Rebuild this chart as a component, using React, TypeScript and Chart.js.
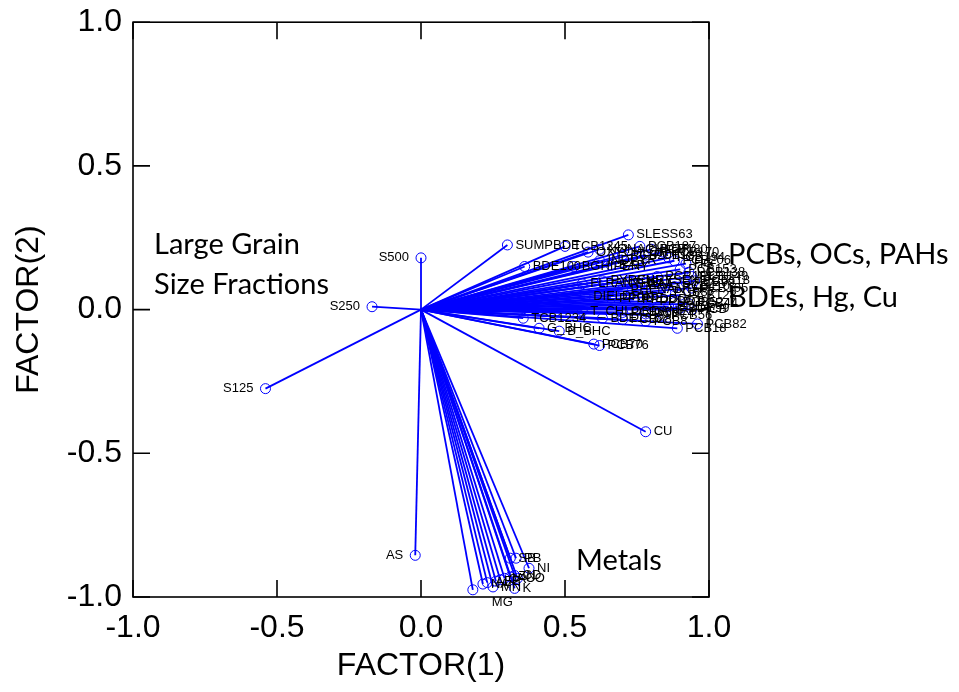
import React, { useEffect, useRef } from "react";
import { Chart, registerables } from "chart.js";

Chart.register(...registerables);

// Variable names (loadings on FACTOR(1), FACTOR(2))
const variables = [
  "S500", "S250", "S125", "AS", "CU",
  "SUMPBDE", "BDE100", "TCB1245", "OXYCHLOR", "NONACHLOR", "SLESS63", "PCB187",
  "PCB180", "PCB170", "PCB183", "PCB194", "PCB206", "HG", "PCB201", "BGHIPERY",
  "INDPYR", "BAP", "PCB153", "PCB138", "PCB149", "PCB118", "PCB99", "PCB101",
  "FLRANTHENE", "PYRENE", "CHRYSENE", "BAA", "PCB110", "PCB105", "PHENANTH", "PCB87",
  "PCB128", "DIELDRIN", "PPDDE", "PPDDD", "PPDDT", "PCB52", "PCB44", "BDE47",
  "BDE99", "HCB", "T_CHLORDANE", "PCB66", "PCB74", "PCB56", "BDE153", "PCB28",
  "PCB18", "PCB8", "PCB82", "TCB1234", "G_BHC", "B_BHC", "PCB70", "PCB76",
  "SB", "PB", "NI", "K", "MG", "NA", "AL", "FE", "CR", "V", "ZN", "CD", "CO", "MN"
];

const factor1 = [
  0.0, -0.17, -0.54, -0.02, 0.78,
  0.30, 0.36, 0.50, 0.58, 0.62, 0.72, 0.76,
  0.80, 0.84, 0.78, 0.86, 0.88, 0.92, 0.70, 0.53,
  0.62, 0.66, 0.90, 0.93, 0.94, 0.95, 0.92, 0.82,
  0.56, 0.63, 0.72, 0.76, 0.88, 0.94, 0.70, 0.85,
  0.90, 0.57, 0.66, 0.74, 0.80, 0.88, 0.93, 0.86,
  0.90, 0.94, 0.56, 0.70, 0.78, 0.84, 0.63, 0.70,
  0.89, 0.78, 0.96, 0.355, 0.41, 0.48, 0.60, 0.62,
  0.31, 0.33, 0.375, 0.325, 0.18, 0.215, 0.23, 0.26, 0.275, 0.29, 0.31, 0.325, 0.335, 0.25
];

const factor2 = [
  0.18, 0.01, -0.275, -0.855, -0.425,
  0.225, 0.15, 0.22, 0.20, 0.21, 0.26, 0.22,
  0.21, 0.20, 0.19, 0.18, 0.17, 0.16, 0.19, 0.15,
  0.17, 0.155, 0.14, 0.13, 0.115, 0.10, 0.095, 0.115,
  0.09, 0.10, 0.10, 0.085, 0.08, 0.075, 0.07, 0.06,
  0.05, 0.045, 0.04, 0.035, 0.03, 0.025, 0.02, 0.01,
  0.005, 0.0, -0.005, -0.01, -0.015, -0.02, -0.03, -0.035,
  -0.065, -0.04, -0.05, -0.03, -0.065, -0.075, -0.12, -0.125,
  -0.865, -0.865, -0.90, -0.97, -0.975, -0.955, -0.95, -0.945, -0.94, -0.935, -0.93, -0.925, -0.935, -0.965
];

// Label side for the few variables not labelled on the right
const leftLabels = ["S500", "S250", "S125", "AS"];
const belowLabels = ["MG"];

// Axis ticks
const tickValues = [-1.0, -0.5, 0.0, 0.5, 1.0];

// Annotation texts with their anchor in data coordinates
const annotationTexts = ["Large Grain", "Size Fractions", "PCBs, OCs, PAHs", "BDEs, Hg, Cu", "Metals"];
const annotationX = [-0.927, -0.927, 1.066, 1.066, 0.538];
const annotationY = [0.226, 0.087, 0.191, 0.042, -0.873];

const BLUE = "#0000ff";
const TICK_FONT = "'Liberation Sans', Arial, sans-serif";

export default function App() {
  const ref = useRef<HTMLCanvasElement | null>(null);

  useEffect(() => {
    if (!ref.current) return;

    const datasets = variables.map((name, i) => ({
      label: name,
      data: [
        { x: 0, y: 0 },
        { x: factor1[i], y: factor2[i] },
      ],
      showLine: true,
      borderColor: BLUE,
      borderWidth: 1.8,
      pointRadius: [0, 5],
      pointBorderColor: BLUE,
      pointBorderWidth: 1,
      pointBackgroundColor: "rgba(0,0,0,0)",
      pointStyle: "circle",
      fill: false,
    }));

    const framePlugin = {
      id: "frame",
      afterDatasetsDraw(chart: any) {
        const { ctx, chartArea, scales } = chart;
        const { left, right, top, bottom } = chartArea;
        ctx.save();
        ctx.strokeStyle = "#000";
        ctx.lineWidth = 1.6;
        ctx.strokeRect(left, top, right - left, bottom - top);
        const tl = 17;
        ctx.beginPath();
        tickValues.forEach((v) => {
          const px = scales.x.getPixelForValue(v);
          const py = scales.y.getPixelForValue(v);
          ctx.moveTo(px, bottom);
          ctx.lineTo(px, bottom - tl);
          ctx.moveTo(px, top);
          ctx.lineTo(px, top + tl);
          ctx.moveTo(left, py);
          ctx.lineTo(left + tl, py);
          ctx.moveTo(right, py);
          ctx.lineTo(right - tl, py);
        });
        ctx.stroke();

        // point labels
        ctx.fillStyle = "#000";
        ctx.font = "13px 'Liberation Sans', Arial, sans-serif";
        ctx.textBaseline = "middle";
        variables.forEach((name, i) => {
          const px = scales.x.getPixelForValue(factor1[i]);
          const py = scales.y.getPixelForValue(factor2[i]);
          if (leftLabels.includes(name)) {
            ctx.textAlign = "right";
            ctx.fillText(name, px - 12, py);
          } else if (belowLabels.includes(name)) {
            ctx.textAlign = "left";
            ctx.fillText(name, px + 19, py + 13);
          } else {
            ctx.textAlign = "left";
            ctx.fillText(name, px + 8, py);
          }
        });

        // annotations
        ctx.font = "29px Lato, 'Open Sans', sans-serif";
        ctx.textAlign = "left";
        annotationTexts.forEach((t, i) => {
          const px = scales.x.getPixelForValue(annotationX[i]);
          const py = scales.y.getPixelForValue(annotationY[i]);
          ctx.fillText(t, px, py);
        });
        ctx.restore();
      },
    };

    const chart = new Chart(ref.current, {
      type: "scatter",
      data: { datasets },
      options: {
        responsive: false,
        animation: false,
        layout: { padding: { left: 0, right: 250, top: 16, bottom: 0 } },
        plugins: {
          legend: { display: false },
          tooltip: { enabled: false },
        },
        scales: {
          x: {
            type: "linear",
            min: -1,
            max: 1,
            afterBuildTicks: (scale: any) => {
              scale.ticks = tickValues.map((v) => ({ value: v }));
            },
            afterFit: (scale: any) => {
              scale.height = 95;
            },
            grid: { display: false },
            border: { display: false },
            ticks: {
              padding: 4,
              color: "#000",
              font: { family: TICK_FONT, size: 32 },
              callback: (v: any) => Number(v).toFixed(1),
            },
            title: {
              display: true,
              text: "FACTOR(1)",
              color: "#000",
              font: { family: TICK_FONT, size: 32 },
              padding: { top: 0, bottom: 7 },
            },
          },
          y: {
            type: "linear",
            min: -1,
            max: 1,
            afterBuildTicks: (scale: any) => {
              scale.ticks = tickValues.map((v) => ({ value: v }));
            },
            afterFit: (scale: any) => {
              scale.width = 133;
            },
            grid: { display: false },
            border: { display: false },
            ticks: {
              padding: 3,
              color: "#000",
              font: { family: TICK_FONT, size: 32 },
              callback: (v: any) => Number(v).toFixed(1),
            },
            title: {
              display: true,
              text: "FACTOR(2)",
              color: "#000",
              font: { family: TICK_FONT, size: 32 },
              padding: { top: 10, bottom: 0 },
            },
          },
        },
      },
      plugins: [framePlugin],
    });

    return () => chart.destroy();
  }, []);

  return (
    <div style={{ position: "fixed", left: 0, top: 0, width: 959, height: 692, background: "#fff" }}>
      <canvas ref={ref} width={959} height={692} />
    </div>
  );
}
